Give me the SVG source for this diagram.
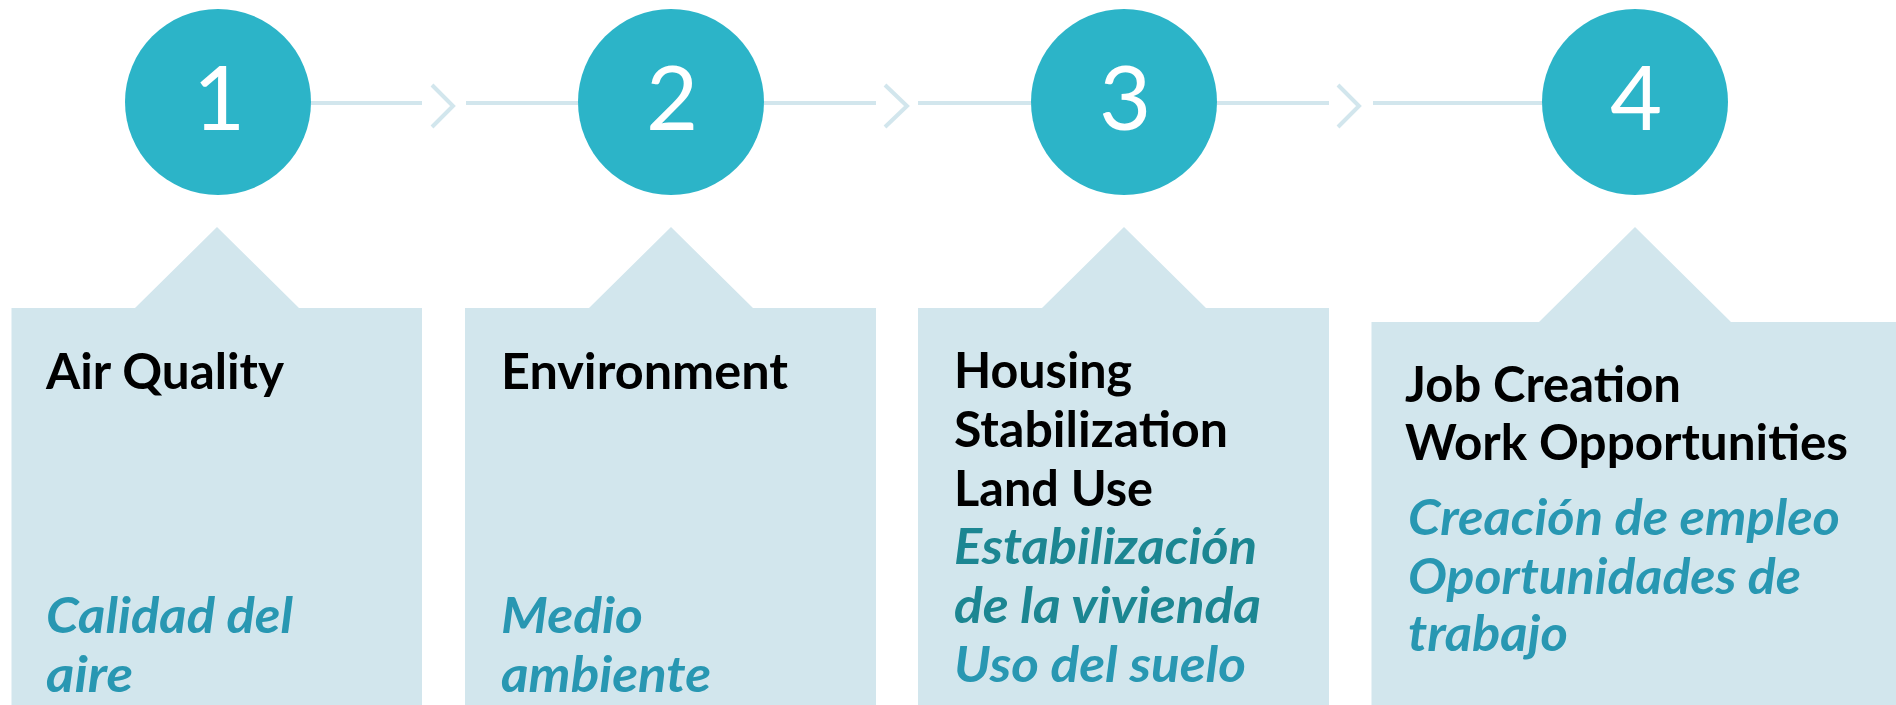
<svg xmlns="http://www.w3.org/2000/svg" width="1896" height="705" viewBox="0 0 1896 705">
<style>
.bg{fill:#ffffff}
.box{fill:#D2E6ED}
.circ{fill:#2CB4C8}
.num{font-family:Lato,"Open Sans","Liberation Sans",sans-serif;font-weight:400;font-size:90px;fill:#ffffff;text-anchor:middle}
.hd{font-family:Lato,"Open Sans","Liberation Sans",sans-serif;font-weight:700;font-size:50px;fill:#000000}
.es{font-family:Lato,"Open Sans","Liberation Sans",sans-serif;font-weight:700;font-style:italic;font-size:50px;fill:#2897B2}
.es2{fill:#1C8692}
.ln{stroke:#D2E6ED;stroke-width:4;fill:none}
.chev{stroke:#D2E6ED;stroke-width:4;fill:none;stroke-linejoin:miter}
</style>
<rect class="bg" x="0" y="0" width="1896" height="705"/>
<g id="connectors">
<line class="ln" x1="311" y1="103" x2="422" y2="103"/>
<polyline class="chev" points="432,85 453,106 432,127"/>
<line class="ln" x1="466" y1="103" x2="578" y2="103"/>
<line class="ln" x1="764" y1="103" x2="876" y2="103"/>
<polyline class="chev" points="885,85 907,106 885,127"/>
<line class="ln" x1="918" y1="103" x2="1031" y2="103"/>
<line class="ln" x1="1217" y1="103" x2="1329" y2="103"/>
<polyline class="chev" points="1338,85 1359,106 1338,127"/>
<line class="ln" x1="1373" y1="103" x2="1542" y2="103"/>
</g>
<g id="node1">
<circle class="circ" cx="218" cy="102" r="93"/>
<text class="num" x="219" y="130">1</text>
<polygon class="box" points="11.5,308 135,308 217,227 299,308 422,308 422,705 11.5,705"/>
<text class="hd" x="46" y="389" textLength="238" lengthAdjust="spacingAndGlyphs">Air Quality</text>
<text class="es" x="46" y="633" textLength="247" lengthAdjust="spacingAndGlyphs">Calidad del</text>
<text class="es" x="46" y="692" textLength="87" lengthAdjust="spacingAndGlyphs">aire</text>
</g>
<g id="node2">
<circle class="circ" cx="671" cy="102" r="93"/>
<text class="num" x="672" y="130">2</text>
<polygon class="box" points="465,308 589,308 671,227 753,308 876,308 876,705 465,705"/>
<text class="hd" x="501" y="389" textLength="287" lengthAdjust="spacingAndGlyphs">Environment</text>
<text class="es" x="501" y="633" textLength="142" lengthAdjust="spacingAndGlyphs">Medio</text>
<text class="es" x="501" y="692" textLength="210" lengthAdjust="spacingAndGlyphs">ambiente</text>
</g>
<g id="node3">
<circle class="circ" cx="1124" cy="102" r="93"/>
<text class="num" x="1125" y="130">3</text>
<polygon class="box" points="918,308 1042,308 1124,227 1206,308 1329,308 1329,705 918,705"/>
<text class="hd" x="954" y="388" textLength="178" lengthAdjust="spacingAndGlyphs">Housing</text>
<text class="hd" x="954" y="446.5" textLength="274" lengthAdjust="spacingAndGlyphs">Stabilization</text>
<text class="hd" x="954" y="505.5" textLength="199" lengthAdjust="spacingAndGlyphs">Land Use</text>
<text class="es es2" x="954" y="563.5" textLength="303" lengthAdjust="spacingAndGlyphs">Estabilización</text>
<text class="es es2" x="954" y="622.5" textLength="307" lengthAdjust="spacingAndGlyphs">de la vivienda</text>
<text class="es" x="954" y="681.5" textLength="292" lengthAdjust="spacingAndGlyphs">Uso del suelo</text>
</g>
<g id="node4">
<circle class="circ" cx="1635" cy="102" r="93"/>
<text class="num" x="1636" y="130">4</text>
<polygon class="box" points="1371.5,322 1539,322 1635,227 1731,322 1900,322 1900,705 1371.5,705"/>
<text class="hd" x="1405" y="401.5" textLength="276" lengthAdjust="spacingAndGlyphs">Job Creation</text>
<text class="hd" x="1405" y="459.5" textLength="443" lengthAdjust="spacingAndGlyphs">Work Opportunities</text>
<text class="es" x="1408" y="534.5" textLength="432" lengthAdjust="spacingAndGlyphs">Creación de empleo</text>
<text class="es" x="1408" y="593.5" textLength="393" lengthAdjust="spacingAndGlyphs">Oportunidades de</text>
<text class="es" x="1408" y="651" textLength="160" lengthAdjust="spacingAndGlyphs">trabajo</text>
</g>
</svg>
